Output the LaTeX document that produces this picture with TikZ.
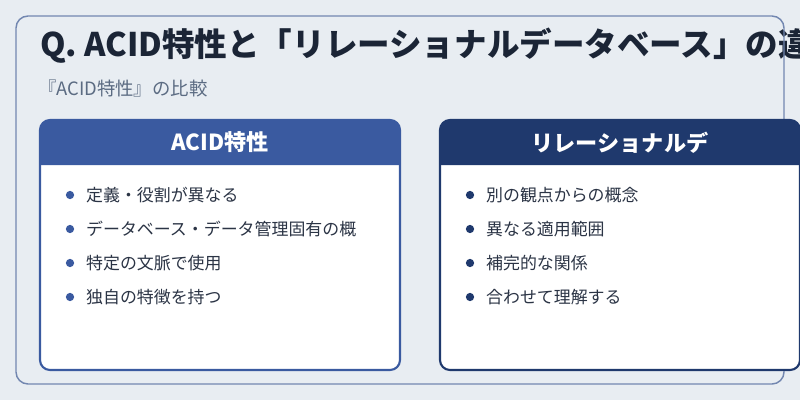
\documentclass[tikz,border=0pt]{standalone}
\usepackage{fontspec}
\setmainfont{Noto Sans CJK JP}
\usetikzlibrary{positioning}
\definecolor{pagebg}{HTML}{E8EDF2}
\definecolor{framegray}{HTML}{7287B0}
\definecolor{acidblue}{HTML}{3A5AA0}
\definecolor{rdbnavy}{HTML}{1F396D}
\definecolor{titleink}{HTML}{1B2536}
\definecolor{subink}{HTML}{5B6B82}
\definecolor{bodyink}{HTML}{2B3445}

\begin{document}
\begin{tikzpicture}[
    x=0.75pt, y=-0.75pt,
    every node/.style = {inner sep=0pt, outer sep=0pt},
    panel/.style     = {rectangle, rounded corners=9pt, draw=framegray, line width=1.1pt,
                        minimum width=576pt, minimum height=276pt},
    card/.style      = {rectangle, rounded corners=7.5pt, fill=white, line width=1.6pt,
                        minimum width=270pt, minimum height=187.5pt},
    cardtitle/.style = {font=\bfseries\fontsize{16.6}{19}\selectfont, text=white},
    item/.style      = {anchor=west, font=\fontsize{12.7}{15}\selectfont, text=bodyink},
    dot/.style       = {circle, minimum size=6.2pt},
]
\useasboundingbox (0,0) rectangle (800,400);
\clip (0,0) rectangle (800,400);
\fill[pagebg] (0,0) rectangle (800,400);

% --- Judul dan rahmen ---
\node[anchor=west, font=\bfseries\fontsize{24.4}{28}\selectfont, text=titleink]
    (title) at (40,46) {Q. ACID特性と「リレーショナルデータベース」の違};
\node[anchor=west, font=\fontsize{13.8}{16}\selectfont, text=subink]
    (subtitle) at (38,89) {『ACID特性』の比較};
\node[panel] (panel) at (400,200) {};

% --- Kartu kiri ---
\node[card, draw=acidblue] (acid) at (220,245) {};
\fill[acidblue] ([yshift=-33.75pt]acid.north west) [rounded corners=7.5pt]
    -- (acid.north west) -- (acid.north east) [sharp corners]
    -- ([yshift=-33.75pt]acid.north east) -- cycle;
\node[cardtitle] (acidhead) at ([yshift=-16.9pt]acid.north) {ACID特性};
\foreach \t [count=\i] in {定義・役割が異なる, データベース・データ管理固有の概,
                           特定の文脈で使用, 独自の特徴を持つ} {
    \node[dot, fill=acidblue] (aciddot\i) at (70,161+34*\i) {};
    \node[item, right=9pt of aciddot\i] (aciditem\i) {\t};
}

% --- Kartu kanan ---
\node[card, draw=rdbnavy] (rdb) at (620,245) {};
\fill[rdbnavy] ([yshift=-33.75pt]rdb.north west) [rounded corners=7.5pt]
    -- (rdb.north west) -- (rdb.north east) [sharp corners]
    -- ([yshift=-33.75pt]rdb.north east) -- cycle;
\node[cardtitle] (rdbhead) at ([yshift=-16.9pt]rdb.north) {リレーショナルデ};
\foreach \t [count=\i] in {別の観点からの概念, 異なる適用範囲,
                           補完的な関係, 合わせて理解する} {
    \node[dot, fill=rdbnavy] (rdbdot\i) at (470,161+34*\i) {};
    \node[item, right=9pt of rdbdot\i] (rdbitem\i) {\t};
}

\end{tikzpicture}
\end{document}
